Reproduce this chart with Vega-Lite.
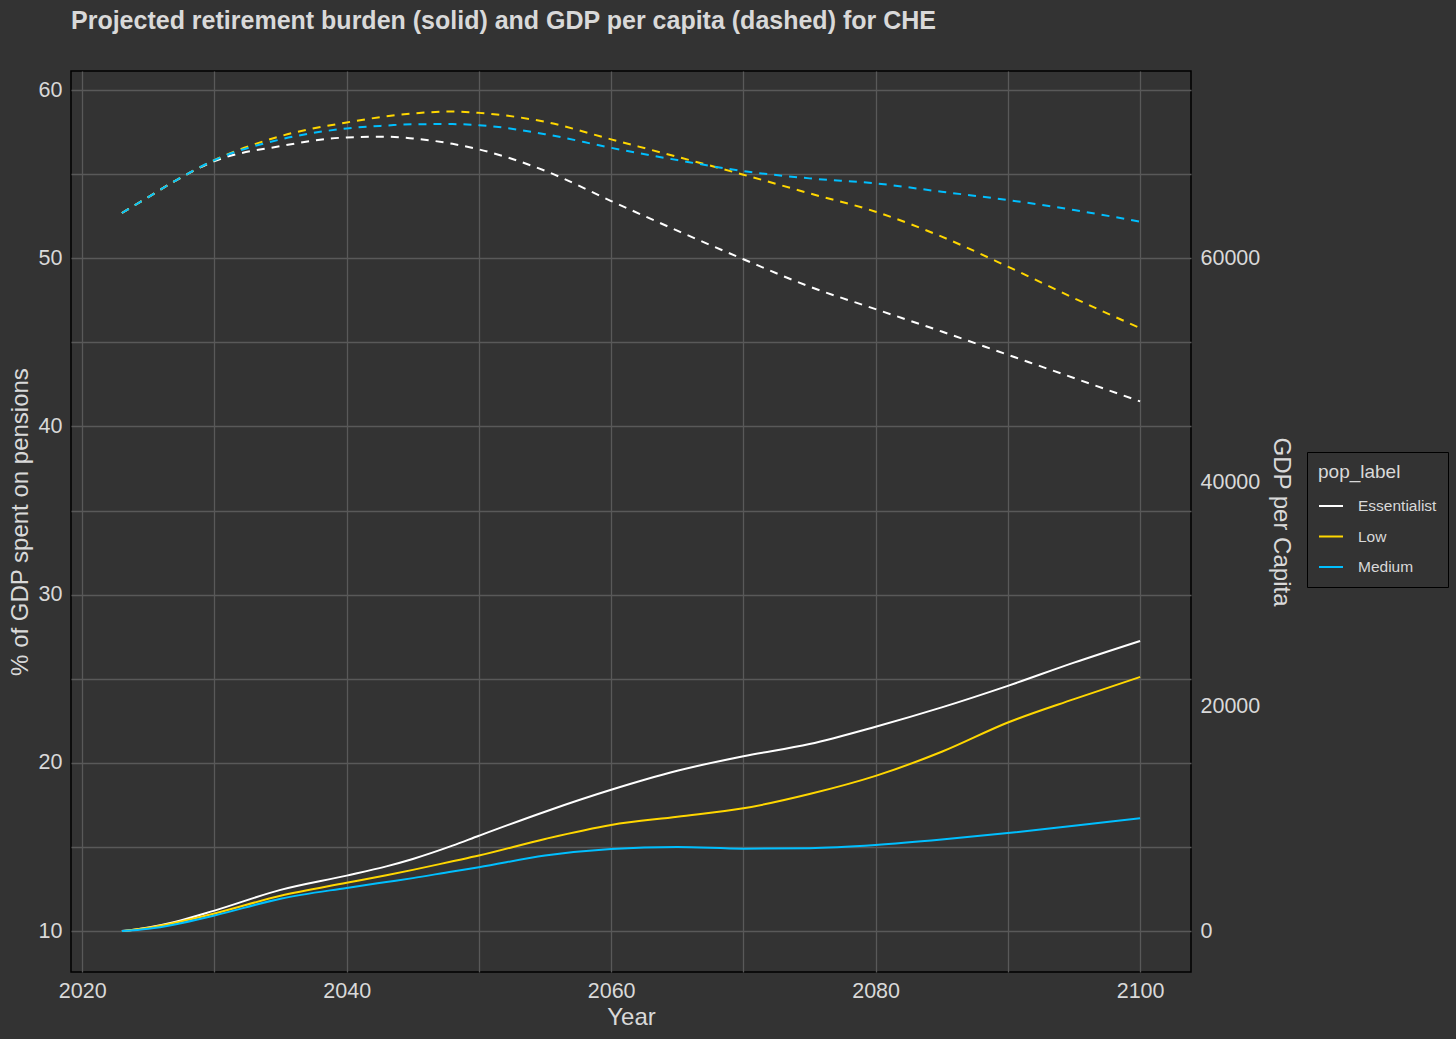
{
  "$schema": "https://vega.github.io/schema/vega-lite/v6.json",
  "width": 1120,
  "height": 901,
  "autosize": {"type": "none"},
  "padding": {"left": 71, "top": 71, "right": 265, "bottom": 67},
  "background": "#333333",
  "title": {
    "text": "Projected retirement burden (solid) and GDP per capita (dashed) for CHE",
    "anchor": "start",
    "frame": "group",
    "font": "Liberation Sans",
    "fontSize": 25,
    "fontWeight": "bold",
    "color": "#d9d9d9",
    "offset": 37
  },
  "config": {
    "view": {"stroke": "#000000", "strokeWidth": 1.5, "fill": "#333333"},
    "axis": {
      "labelFont": "Liberation Sans",
      "titleFont": "Liberation Sans",
      "labelColor": "#d9d9d9",
      "titleColor": "#d9d9d9",
      "labelFontSize": 21.5,
      "titleFontSize": 24,
      "titleFontWeight": "normal",
      "domain": false,
      "ticks": false,
      "gridColor": "#595959",
      "gridWidth": 1.3
    },
    "legend": {
      "labelFont": "Liberation Sans",
      "titleFont": "Liberation Sans"
    }
  },
  "data": {
    "values": [
      {"year": 2023, "pop_label": "Essentialist", "pension": 10.0, "gdp": 64032},
      {"year": 2025, "pop_label": "Essentialist", "pension": 10.22, "gdp": 65456},
      {"year": 2027, "pop_label": "Essentialist", "pension": 10.55, "gdp": 66881},
      {"year": 2030, "pop_label": "Essentialist", "pension": 11.22, "gdp": 68661},
      {"year": 2035, "pop_label": "Essentialist", "pension": 12.45, "gdp": 69997},
      {"year": 2040, "pop_label": "Essentialist", "pension": 13.3, "gdp": 70771},
      {"year": 2043, "pop_label": "Essentialist", "pension": 13.85, "gdp": 70842},
      {"year": 2045, "pop_label": "Essentialist", "pension": 14.29, "gdp": 70682},
      {"year": 2048, "pop_label": "Essentialist", "pension": 15.08, "gdp": 70200},
      {"year": 2050, "pop_label": "Essentialist", "pension": 15.67, "gdp": 69703},
      {"year": 2055, "pop_label": "Essentialist", "pension": 17.1, "gdp": 67800},
      {"year": 2060, "pop_label": "Essentialist", "pension": 18.4, "gdp": 65100},
      {"year": 2065, "pop_label": "Essentialist", "pension": 19.53, "gdp": 62460},
      {"year": 2070, "pop_label": "Essentialist", "pension": 20.4, "gdp": 59910},
      {"year": 2075, "pop_label": "Essentialist", "pension": 21.12, "gdp": 57471},
      {"year": 2080, "pop_label": "Essentialist", "pension": 22.15, "gdp": 55459},
      {"year": 2085, "pop_label": "Essentialist", "pension": 23.3, "gdp": 53465},
      {"year": 2090, "pop_label": "Essentialist", "pension": 24.58, "gdp": 51391},
      {"year": 2095, "pop_label": "Essentialist", "pension": 25.96, "gdp": 49317},
      {"year": 2100, "pop_label": "Essentialist", "pension": 27.25, "gdp": 47234},
      {"year": 2023, "pop_label": "Low", "pension": 10.0, "gdp": 64032},
      {"year": 2025, "pop_label": "Low", "pension": 10.2, "gdp": 65456},
      {"year": 2027, "pop_label": "Low", "pension": 10.5, "gdp": 66881},
      {"year": 2030, "pop_label": "Low", "pension": 11.05, "gdp": 68750},
      {"year": 2035, "pop_label": "Low", "pension": 12.1, "gdp": 70886},
      {"year": 2040, "pop_label": "Low", "pension": 12.87, "gdp": 72106},
      {"year": 2043, "pop_label": "Low", "pension": 13.32, "gdp": 72650},
      {"year": 2045, "pop_label": "Low", "pension": 13.64, "gdp": 72907},
      {"year": 2048, "pop_label": "Low", "pension": 14.15, "gdp": 73080},
      {"year": 2050, "pop_label": "Low", "pension": 14.49, "gdp": 72961},
      {"year": 2055, "pop_label": "Low", "pension": 15.48, "gdp": 72160},
      {"year": 2060, "pop_label": "Low", "pension": 16.31, "gdp": 70600},
      {"year": 2065, "pop_label": "Low", "pension": 16.8, "gdp": 69044},
      {"year": 2070, "pop_label": "Low", "pension": 17.3, "gdp": 67450},
      {"year": 2075, "pop_label": "Low", "pension": 18.15, "gdp": 65786},
      {"year": 2080, "pop_label": "Low", "pension": 19.23, "gdp": 64148},
      {"year": 2085, "pop_label": "Low", "pension": 20.66, "gdp": 61922},
      {"year": 2090, "pop_label": "Low", "pension": 22.4, "gdp": 59252},
      {"year": 2095, "pop_label": "Low", "pension": 23.79, "gdp": 56439},
      {"year": 2100, "pop_label": "Low", "pension": 25.11, "gdp": 53768},
      {"year": 2023, "pop_label": "Medium", "pension": 10.0, "gdp": 64032},
      {"year": 2025, "pop_label": "Medium", "pension": 10.14, "gdp": 65456},
      {"year": 2027, "pop_label": "Medium", "pension": 10.4, "gdp": 66881},
      {"year": 2030, "pop_label": "Medium", "pension": 10.93, "gdp": 68750},
      {"year": 2035, "pop_label": "Medium", "pension": 11.93, "gdp": 70593},
      {"year": 2040, "pop_label": "Medium", "pension": 12.57, "gdp": 71572},
      {"year": 2043, "pop_label": "Medium", "pension": 12.92, "gdp": 71830},
      {"year": 2045, "pop_label": "Medium", "pension": 13.15, "gdp": 71955},
      {"year": 2048, "pop_label": "Medium", "pension": 13.55, "gdp": 71960},
      {"year": 2050, "pop_label": "Medium", "pension": 13.8, "gdp": 71866},
      {"year": 2055, "pop_label": "Medium", "pension": 14.49, "gdp": 71065},
      {"year": 2060, "pop_label": "Medium", "pension": 14.88, "gdp": 69845},
      {"year": 2065, "pop_label": "Medium", "pension": 15.0, "gdp": 68751},
      {"year": 2070, "pop_label": "Medium", "pension": 14.9, "gdp": 67771},
      {"year": 2075, "pop_label": "Medium", "pension": 14.93, "gdp": 67121},
      {"year": 2080, "pop_label": "Medium", "pension": 15.12, "gdp": 66676},
      {"year": 2085, "pop_label": "Medium", "pension": 15.44, "gdp": 65928},
      {"year": 2090, "pop_label": "Medium", "pension": 15.83, "gdp": 65190},
      {"year": 2095, "pop_label": "Medium", "pension": 16.27, "gdp": 64301},
      {"year": 2100, "pop_label": "Medium", "pension": 16.71, "gdp": 63258}
    ]
  },
  "encoding": {
    "x": {
      "field": "year",
      "type": "quantitative",
      "scale": {"domain": [2019.15, 2103.85], "nice": false, "zero": false},
      "axis": {
        "title": "Year",
        "values": [2020, 2030, 2040, 2050, 2060, 2070, 2080, 2090, 2100],
        "format": "d",
        "labelExpr": "datum.value % 20 === 0 ? datum.label : ''",
        "labelPadding": 8,
        "titlePadding": 4
      }
    },
    "color": {
      "field": "pop_label",
      "type": "nominal",
      "scale": {
        "domain": ["Essentialist", "Low", "Medium"],
        "range": ["#ffffff", "#FFD700", "#00BFFF"]
      }
    }
  },
  "layer": [
    {
      "mark": {"type": "line", "strokeWidth": 2, "interpolate": "monotone"},
      "encoding": {
        "y": {
          "field": "pension",
          "type": "quantitative",
          "scale": {"domain": [7.57, 61.13], "nice": false, "zero": false},
          "axis": {
            "title": "% of GDP spent on pensions",
            "orient": "left",
            "values": [10, 15, 20, 25, 30, 35, 40, 45, 50, 55, 60],
            "labelExpr": "datum.value % 10 === 0 ? datum.label : ''",
            "labelPadding": 9,
            "titlePadding": 6
          }
        },
        "color": {
          "field": "pop_label",
          "type": "nominal",
          "legend": {
            "title": "pop_label",
            "orient": "none",
            "legendX": 1236,
            "legendY": 381,
            "direction": "vertical",
            "padding": 11,
            "strokeColor": "#000000",
            "fillColor": "#333333",
            "titleFontSize": 19,
            "titleFontWeight": "normal",
            "titleColor": "#d9d9d9",
            "titlePadding": 11,
            "labelFontSize": 15.5,
            "labelColor": "#d9d9d9",
            "labelOffset": 14,
            "symbolType": "stroke",
            "symbolSize": 576,
            "symbolStrokeWidth": 2,
            "rowPadding": 8.5
          }
        }
      }
    },
    {
      "mark": {"type": "line", "strokeWidth": 2, "strokeDash": [8, 7], "interpolate": "monotone"},
      "encoding": {
        "y": {
          "field": "gdp",
          "type": "quantitative",
          "scale": {"domain": [-3645, 76695], "nice": false, "zero": false},
          "axis": {
            "title": "GDP per Capita",
            "orient": "right",
            "values": [0, 20000, 40000, 60000],
            "format": "d",
            "grid": false,
            "labelPadding": 9,
            "titlePadding": 9
          }
        }
      }
    }
  ],
  "resolve": {"scale": {"y": "independent"}}
}
